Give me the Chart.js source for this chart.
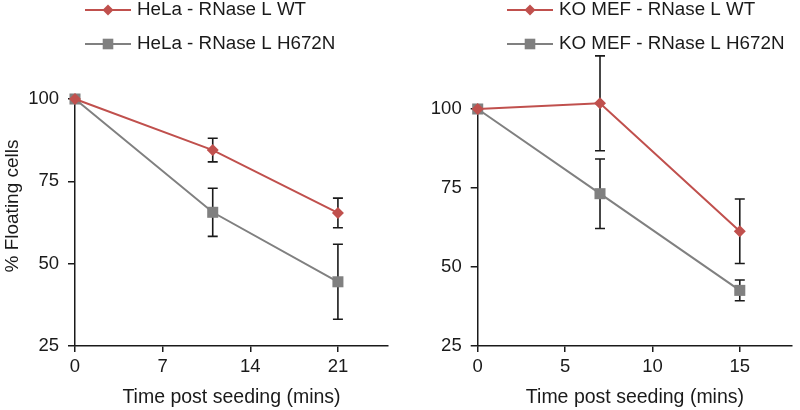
<!DOCTYPE html>
<html lang="en">
<head>
<meta charset="UTF-8">
<title>Floating cells after seeding</title>
<script src="https://cdn.jsdelivr.net/npm/chart.js"></script>
<style>
  body { margin: 0; background: #fff; }
  .wrap { display: flex; width: 800px; height: 410px; }
  canvas { display: block; }
</style>
</head>
<body>
<div class="wrap">
  <canvas id="hela" width="400" height="410"></canvas>
  <canvas id="mef" width="400" height="410"></canvas>
</div>
<script>
// HeLa panel
const helaTime = [0, 11, 21];
const helaWT = [100, 84.5, 65.4];
const helaWTErr = [0, 3.6, 4.5];
const helaMut = [100, 65.6, 44.5];
const helaMutErr = [0, 7.3, 11.4];
const helaTicks = [0, 7, 14, 21];
const helaLabels = ['HeLa - RNase L WT', 'HeLa - RNase L H672N'];

// KO MEF panel
const mefTime = [0, 7, 15];
const mefWT = [100, 101.8, 61.3];
const mefWTErr = [0, 15, 10.2];
const mefMut = [100, 73.2, 42.6];
const mefMutErr = [0, 11, 3.3];
const mefTicks = [0, 5, 10, 15];
const mefLabels = ['KO MEF - RNase L WT', 'KO MEF - RNase L H672N'];

const yTicks = [25, 50, 75, 100];

const RED = '#c0504d';
const GREY = '#808080';
const INK = '#1a1a1a';
const FONT = '"Liberation Sans", Arial, sans-serif';

Chart.defaults.font.family = FONT;
Chart.defaults.color = INK;

// vertical error bars with caps, drawn under the markers
const errorBars = {
  id: 'errorBars',
  beforeDatasetsDraw(chart) {
    const { ctx, scales: { x, y } } = chart;
    ctx.save();
    ctx.strokeStyle = INK;
    ctx.lineWidth = 1.6;
    chart.data.datasets.forEach(ds => {
      ds.data.forEach((p, i) => {
        const e = ds.errors[i];
        if (!e) return;
        const px = x.getPixelForValue(p.x);
        const top = y.getPixelForValue(p.y + e);
        const bot = y.getPixelForValue(p.y - e);
        ctx.beginPath();
        ctx.moveTo(px, top); ctx.lineTo(px, bot);
        ctx.moveTo(px - 5, top); ctx.lineTo(px + 5, top);
        ctx.moveTo(px - 5, bot); ctx.lineTo(px + 5, bot);
        ctx.stroke();
      });
    });
    ctx.restore();
  }
};

// excel-like legend (line + marker) and rotated y title
const extras = {
  id: 'extras',
  afterDraw(chart, args, opts) {
    const ctx = chart.ctx;
    ctx.save();
    chart.data.datasets.forEach((ds, i) => {
      const x0 = opts.legendX, y = opts.legendY[i];
      ctx.strokeStyle = ds.borderColor;
      ctx.lineWidth = 2;
      ctx.beginPath();
      ctx.moveTo(x0, y); ctx.lineTo(x0 + 46, y);
      ctx.stroke();
      ctx.fillStyle = ds.backgroundColor;
      Chart.helpers.drawPoint(ctx, {
        pointStyle: ds.pointStyle,
        radius: ds.pointStyle === 'rect' ? 7.5 : 5.5,
        borderWidth: 0,
        rotation: 0
      }, x0 + 23, y);
      ctx.fillStyle = INK;
      ctx.font = '18.8px ' + FONT;
      ctx.textBaseline = 'middle';
      ctx.textAlign = 'left';
      ctx.fillText(ds.label, x0 + 52, y);
    });
    if (opts.yTitle) {
      ctx.translate(13, 206);
      ctx.rotate(-Math.PI / 2);
      ctx.font = '19px ' + FONT;
      ctx.fillStyle = INK;
      ctx.textAlign = 'center';
      ctx.textBaseline = 'middle';
      ctx.fillText(opts.yTitle, 0, 0);
    }
    ctx.restore();
  }
};

function series(label, xs, ys, errs, color, style, radius) {
  return {
    label: label,
    data: xs.map((v, i) => ({ x: v, y: ys[i] })),
    errors: errs,
    borderColor: color,
    backgroundColor: color,
    borderWidth: 2,
    pointStyle: style,
    pointRadius: radius,
    pointBorderWidth: 0,
    pointHoverRadius: radius,
    tension: 0,
    clip: false
  };
}

function makeChart(id, cfg) {
  return new Chart(document.getElementById(id), {
    type: 'line',
    data: {
      datasets: [
        series(cfg.labels[0], cfg.time, cfg.wt, cfg.wtErr, RED, 'rectRot', 6),
        series(cfg.labels[1], cfg.time, cfg.mut, cfg.mutErr, GREY, 'rect', 7.8)
      ]
    },
    options: {
      responsive: false,
      animation: false,
      layout: { padding: cfg.padding },
      plugins: {
        legend: { display: false },
        tooltip: { enabled: false },
        extras: { legendX: cfg.legendX, legendY: [10, 44], yTitle: cfg.yTitle }
      },
      scales: {
        x: {
          type: 'linear',
          min: 0,
          max: cfg.xMax,
          afterBuildTicks: s => { s.ticks = cfg.xTicks.map(v => ({ value: v })); },
          afterFit: s => { s.height = 64; },
          grid: { drawOnChartArea: false, tickLength: 6, color: INK, lineWidth: 1.5 },
          border: { color: INK, width: 1.5 },
          ticks: { font: { size: 18.5 }, padding: 4, maxRotation: 0, autoSkip: false },
          title: {
            display: true,
            text: 'Time post seeding (mins)',
            font: { size: 19.5 },
            padding: { top: 0, bottom: 1 }
          }
        },
        y: {
          min: 25,
          max: 100,
          afterBuildTicks: s => { s.ticks = yTicks.map(v => ({ value: v })); },
          afterFit: s => { s.width = cfg.yWidth; },
          grid: { drawOnChartArea: false, tickLength: 7, color: INK, lineWidth: 1.5 },
          border: { color: INK, width: 1.5 },
          ticks: { font: { size: 18.5 }, padding: 9 }
        }
      }
    },
    plugins: [errorBars, extras]
  });
}

makeChart('hela', {
  labels: helaLabels, time: helaTime,
  wt: helaWT, wtErr: helaWTErr, mut: helaMut, mutErr: helaMutErr,
  xMax: 25, xTicks: helaTicks, yWidth: 75,
  padding: { top: 99, right: 12, left: 0, bottom: 0 },
  legendX: 85, yTitle: '% Floating cells'
});

makeChart('mef', {
  labels: mefLabels, time: mefTime,
  wt: mefWT, wtErr: mefWTErr, mut: mefMut, mutErr: mefMutErr,
  xMax: 18, xTicks: mefTicks, yWidth: 77.7,
  padding: { top: 109, right: 3.3, left: 0, bottom: 0 },
  legendX: 107, yTitle: null
});
</script>
</body>
</html>
